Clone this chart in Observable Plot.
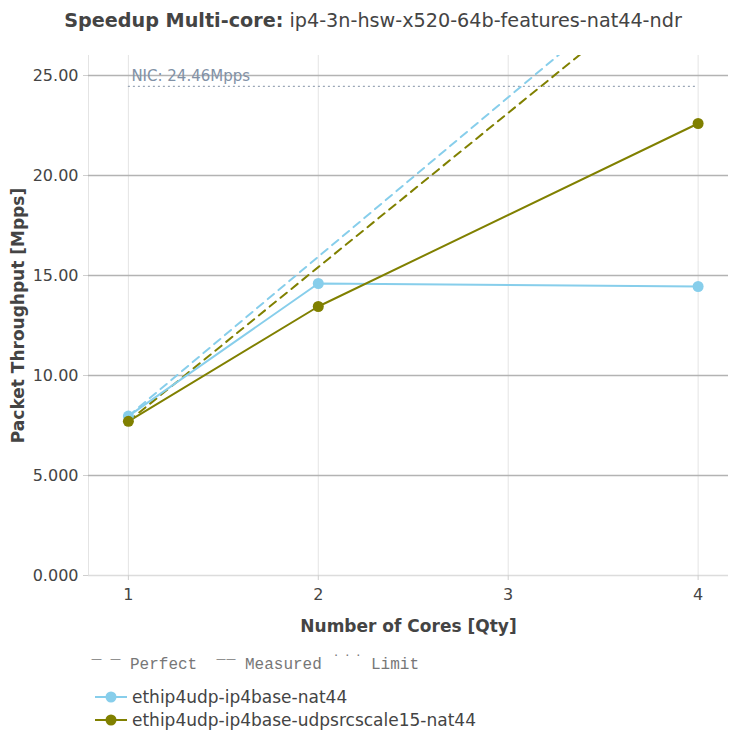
<!DOCTYPE html>
<html>
<head>
<meta charset="utf-8">
<script src="https://cdn.jsdelivr.net/npm/d3@7"></script>
<script src="https://cdn.jsdelivr.net/npm/@observablehq/plot@0.6"></script>
<style>
  body { margin: 0; background: white; font-family: "DejaVu Sans", sans-serif; color: #444; }
  #wrap { width: 730px; height: 734px; position: relative; overflow: hidden; }
  #title { position: absolute; left: 0; top: 0; width: 746px; height: 40px; line-height: 42px; font-size: 19.2px; text-align: center; white-space: nowrap; }
  #chart { position: absolute; left: 0; top: 40px; }
  #chart svg { display: block; }
  #legend { position: absolute; left: 0; top: 645px; width: 730px; height: 89px; }
  .k { position: absolute; white-space: nowrap; color: #777; font-family: "DejaVu Sans", sans-serif; }
  .km { font-family: "Liberation Mono", monospace; font-size: 16px; top: 11px; }
  .item { position: absolute; left: 95px; font-size: 17px; color: #444; display: flex; align-items: center; white-space: nowrap; }
  .item svg { margin-right: 5px; }
</style>
</head>
<body>
<div id="wrap">
  <div id="title"><b>Speedup Multi-core:</b> ip4-3n-hsw-x520-64b-features-nat44-ndr</div>
  <div id="chart"></div>
  <div id="legend"></div>
</div>
<script>
// ---- data ----
const cores = [1, 2, 4];
const seriesNames = ["ethip4udp-ip4base-nat44", "ethip4udp-ip4base-udpsrcscale15-nat44"];
const seriesColors = ["#87ceeb", "#808000"];
const nat44Values = [7.97, 14.6, 14.45];
const udpsrcscale15Values = [7.71, 13.45, 22.6];
const perfectCores = [1, 2, 3, 4];
const nicLimit = 24.46;
const nicLabel = "NIC: 24.46Mpps";
const yTicks = [0, 5, 10, 15, 20, 25];
const xTicks = [1, 2, 3, 4];
const xDomain = [0.79, 4.16];
const yDomain = [0, 26];
const xLabel = "Number of Cores [Qty]";
const yLabel = "Packet Throughput [Mpps]";

// ---- tables ----
const allValues = [nat44Values, udpsrcscale15Values];
const measured = [];
const perfect = [];
seriesNames.forEach((name, i) => {
  cores.forEach((c, j) => measured.push({series: name, cores: c, value: allValues[i][j]}));
  perfectCores.forEach(c => perfect.push({series: name, cores: c, value: allValues[i][0] * c}));
});

const fmt = d3.format(".4r");

const chart = Plot.plot({
  width: 730,
  height: 605,
  marginTop: 15,
  marginBottom: 70,
  marginLeft: 88,
  marginRight: 2,
  style: {fontFamily: "DejaVu Sans, sans-serif", fontSize: "16px", color: "#444", background: "white"},
  x: {domain: xDomain},
  y: {domain: yDomain},
  color: {domain: seriesNames, range: seriesColors},
  marks: [
    Plot.ruleX([xDomain[0]], {stroke: "#e4e4e4", strokeWidth: 1}),
    Plot.gridX(xTicks, {stroke: "#e4e4e4", strokeOpacity: 1, strokeWidth: 1}),
    Plot.gridY(yTicks.filter(d => d > 0), {stroke: "#b3b3b3", strokeOpacity: 1, strokeWidth: 1.6}),
    Plot.ruleY([0], {stroke: "#dcdcdc", strokeWidth: 1.3}),
    Plot.axisY({ticks: yTicks, tickFormat: fmt, tickSize: 5, tickPadding: 5, stroke: "#cfcfcf", fill: "#444", fontSize: 16, label: null}),
    Plot.axisX({ticks: xTicks, tickFormat: d3.format("d"), tickSize: 5, tickPadding: 8, stroke: "#cfcfcf", fill: "#444", fontSize: 16, label: null}),
    Plot.text([xLabel], {frameAnchor: "bottom", textAnchor: "middle", dy: 56, fontWeight: "bold", fontSize: 17, fill: "#444"}),
    Plot.text([yLabel], {frameAnchor: "left", textAnchor: "middle", dx: -70, rotate: -90, fontWeight: "bold", fontSize: 17, fill: "#444"}),
    Plot.ruleY([nicLimit], {x1: d3.min(cores), x2: d3.max(cores), stroke: "#9aa6b6", strokeWidth: 1.3, strokeDasharray: "2,3"}),
    Plot.text([nicLabel], {x: d3.min(cores), y: nicLimit, dx: 3, dy: -10, textAnchor: "start", fill: "#8191a6", fontSize: 15}),
    Plot.line(perfect, {x: "cores", y: "value", z: "series", stroke: "series", strokeWidth: 2, strokeDasharray: "8,6", clip: true}),
    Plot.line(measured, {x: "cores", y: "value", z: "series", stroke: "series", strokeWidth: 2}),
    Plot.dot(measured, {x: "cores", y: "value", fill: "series", r: 5.5, stroke: "none"})
  ]
});
document.getElementById("chart").appendChild(chart);

// ---- legend ----
const legend = document.getElementById("legend");
const keyParts = [
  {text: "\u2014", left: 91, cls: "k", style: "font-size:11px;top:7px;"},
  {text: "\u2014", left: 110, cls: "k", style: "font-size:11px;top:7px;"},
  {text: "Perfect", left: 130, cls: "k km", style: ""},
  {text: "\u2014\u2014", left: 216, cls: "k", style: "font-size:10px;top:8px;"},
  {text: "Measured", left: 245, cls: "k km", style: ""},
  {text: "...", left: 334, cls: "k", style: "font-size:13px;top:-1px;letter-spacing:7px;"},
  {text: "Limit", left: 371, cls: "k km", style: ""}
];
keyParts.forEach(p => {
  const s = document.createElement("span");
  s.className = p.cls;
  s.textContent = p.text;
  s.style.cssText += p.style + "left:" + p.left + "px;";
  legend.appendChild(s);
});
seriesNames.forEach((name, i) => {
  const row = document.createElement("div");
  row.className = "item";
  row.style.top = (42 + i * 23) + "px";
  row.innerHTML = `<svg width="32" height="14"><line x1="0" y1="7" x2="32" y2="7" stroke="${seriesColors[i]}" stroke-width="2"/><circle cx="16" cy="7" r="5.5" fill="${seriesColors[i]}"/></svg><span>${name}</span>`;
  legend.appendChild(row);
});
</script>
</body>
</html>
